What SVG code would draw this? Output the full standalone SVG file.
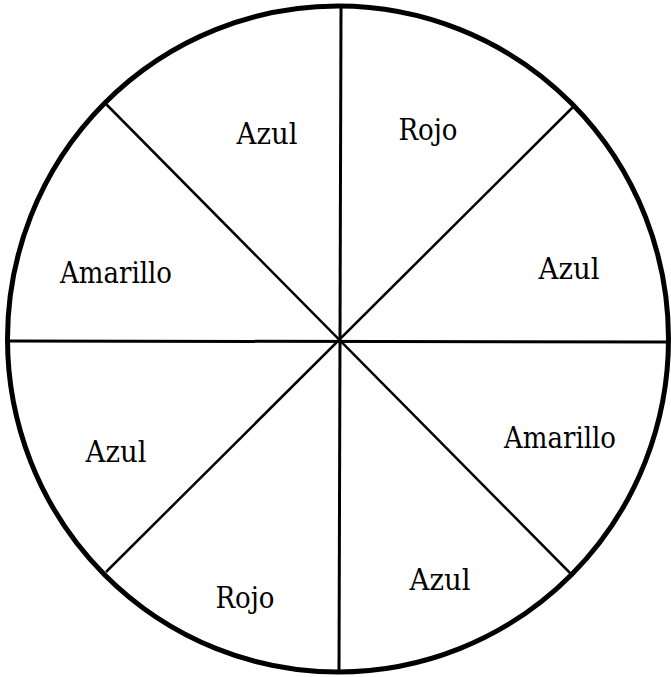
<svg xmlns="http://www.w3.org/2000/svg" width="671" height="677" viewBox="0 0 671 677">
<style>
.l{stroke:#000;fill:none}
.t{font-family:'DejaVu Serif',serif;font-size:29px;fill:#000;text-anchor:middle}
</style>
<rect width="671" height="677" fill="#fff"/>
<g id="connectors">
<line class="l" x1="341" y1="7" x2="339" y2="672" stroke-width="3"/>
<line class="l" x1="8" y1="341" x2="668" y2="342" stroke-width="3"/>
<line class="l" x1="105" y1="103" x2="572" y2="575" stroke-width="2.5"/>
<line class="l" x1="573" y1="107" x2="106" y2="572" stroke-width="2.5"/>
</g>
<g id="wheel">
<ellipse class="l" cx="338" cy="339" rx="330.5" ry="333" stroke-width="5"/>
</g>
<g id="s1"><text class="t" x="267" y="144" textLength="61" lengthAdjust="spacingAndGlyphs">Azul</text></g>
<g id="s2"><text class="t" x="428" y="140" textLength="59" lengthAdjust="spacingAndGlyphs">Rojo</text></g>
<g id="s3"><text class="t" x="569" y="279" textLength="61" lengthAdjust="spacingAndGlyphs">Azul</text></g>
<g id="s4"><text class="t" x="560" y="448" textLength="112" lengthAdjust="spacingAndGlyphs">Amarillo</text></g>
<g id="s5"><text class="t" x="440" y="590" textLength="61" lengthAdjust="spacingAndGlyphs">Azul</text></g>
<g id="s6"><text class="t" x="245" y="608" textLength="59" lengthAdjust="spacingAndGlyphs">Rojo</text></g>
<g id="s7"><text class="t" x="116" y="462" textLength="61" lengthAdjust="spacingAndGlyphs">Azul</text></g>
<g id="s8"><text class="t" x="116" y="283" textLength="112" lengthAdjust="spacingAndGlyphs">Amarillo</text></g>
</svg>
